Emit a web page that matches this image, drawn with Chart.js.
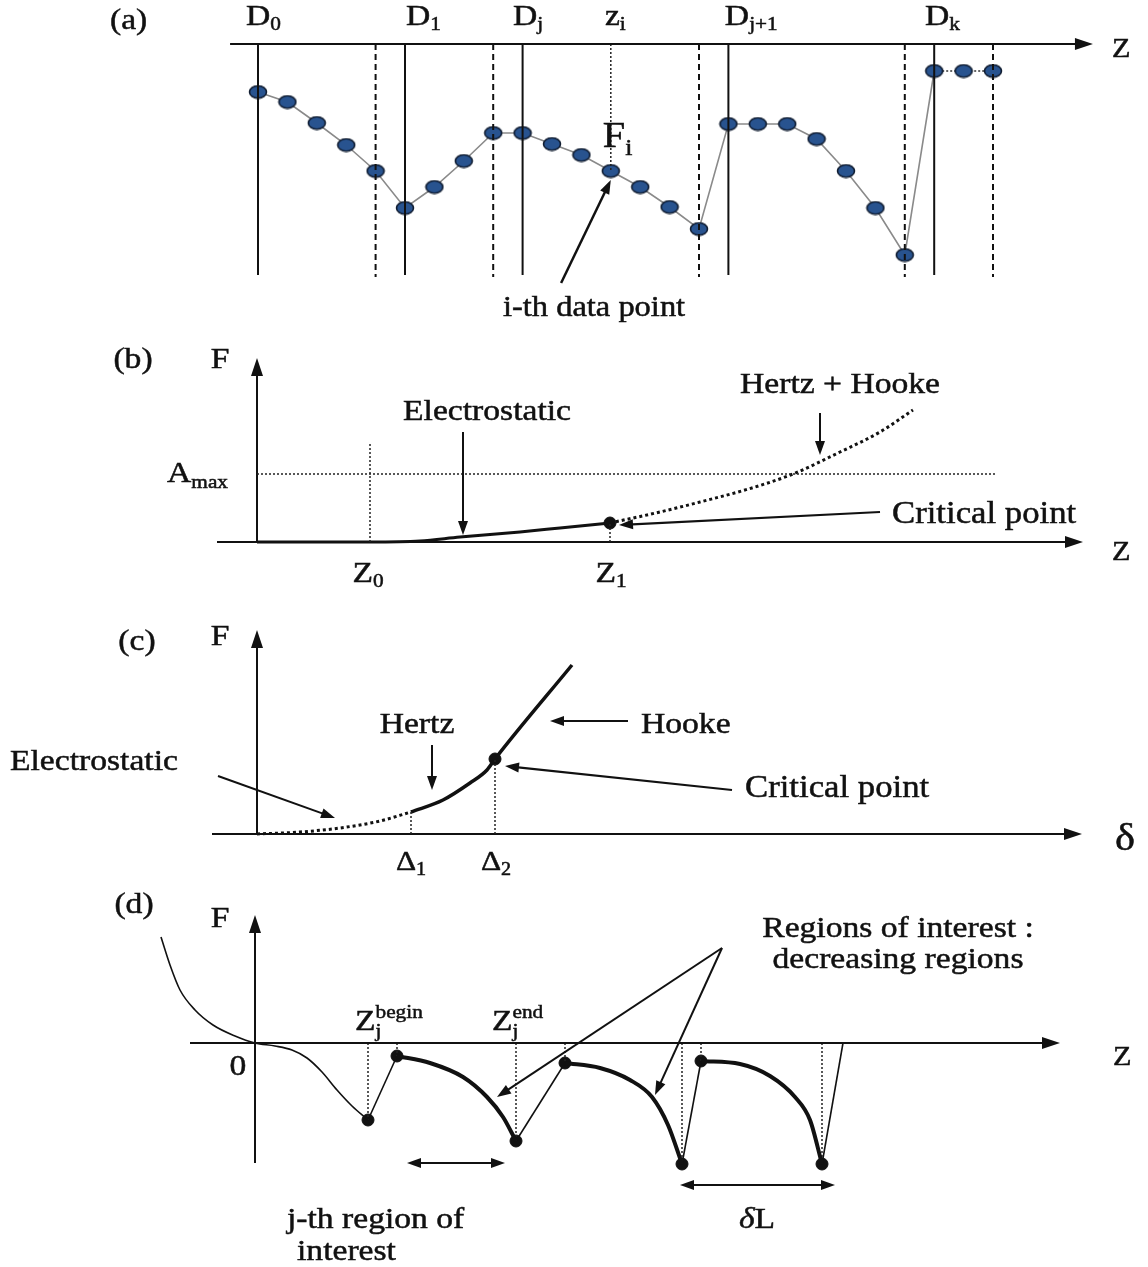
<!DOCTYPE html>
<html lang="en">
<head>
  <meta charset="UTF-8" />
  <title>Force curve segmentation</title>
  <script src="https://cdn.jsdelivr.net/npm/chart.js"></script>
  <style>
    body { margin: 0; background: #fff; }
    .panel { position: absolute; left: 0; width: 1148px; }
  </style>
</head>
<body>
  <div class="panel" style="top:0;height:330px"><canvas id="ca"></canvas></div>
  <div class="panel" style="top:330px;height:270px"><canvas id="cb"></canvas></div>
  <div class="panel" style="top:600px;height:290px"><canvas id="cc"></canvas></div>
  <div class="panel" style="top:890px;height:377px"><canvas id="cd"></canvas></div>

  <script>
    // ---- (a) sampled curve: one force value per z step ----
    const zIndexA = [0, 1, 2, 3, 4, 5, 6, 7, 8, 9, 10, 11, 12, 13, 14, 15, 16, 17, 18, 19, 20, 21, 22, 23, 24, 25];
    const forceA = [-48, -58, -79, -101, -127, -164, -143, -117, -89, -89, -100, -111, -127, -143, -163, -185,
                    -80, -80, -80, -95, -127, -164, -211, -27, -27, -27];
    const solidA = [0, 5, 9, 16, 23];   // D0, D1, Dj, Dj+1, Dk
    const dashedA = [4, 8, 15, 22, 25];
    const ziA = 12;

    // ---- (b) force vs z ----
    const bSolidZ = [0, 113, 163, 203, 263, 303, 353];
    const bSolidF = [0, 0, 1, 5, 10, 14, 19];
    const bDotZ = [353, 403, 443, 488, 536, 583, 623, 656];
    const bDotF = [19, 30, 40, 52, 68, 90, 110, 132];
    const bAmax = 68;
    const bZ0 = 113;
    const bZ1 = 353;

    // ---- (c) force vs indentation ----
    const cElecZ = [0, 43, 83, 123, 154];
    const cElecF = [0, 2, 6, 13, 22];
    const cHertzZ = [154, 186, 213, 230, 238];
    const cHertzF = [22, 34, 51, 64, 75];
    const cHookeZ = [238, 315];
    const cHookeF = [75, 169];
    const cDelta = [154, 238];

    // ---- (d) retraction curve ----
    const dApproachZ = [-94, -85, -75, -60, -42, -20, 0, 20, 37, 52, 67, 82, 97, 113];
    const dApproachF = [106, 78, 53, 33, 18, 7, 0, -3, -7, -15, -29, -47, -63, -77];
    const region1Z = [142, 175, 208, 232, 248, 261];
    const region1F = [-13, -20, -34, -54, -74, -98];
    const region2Z = [310, 345, 375, 397, 413, 427];
    const region2F = [-20, -25, -37, -54, -82, -121];
    const region3Z = [446, 485, 515, 540, 555, 567];
    const region3F = [-18, -21, -33, -54, -77, -121];
    const dEndZ = 588;

    const FONT = '"Liberation Serif", "Times New Roman", serif';
    const SX = 1.12; // lettering in the figure is a bit stretched sideways
    const FS = 30;   // main label size
    const overlays = {};

    const pts = (xs, ys) => xs.map((x, i) => ({ x: x, y: ys[i] }));
    function lineDs(data, o) {
      return Object.assign({ data: data, showLine: true, pointRadius: 0, borderColor: '#111',
        borderWidth: 2, fill: false, clip: false }, o || {});
    }
    const vline = (x, y0, y1, o) => lineDs([{ x: x, y: y0 }, { x: x, y: y1 }], o);
    const dotted = { borderWidth: 1.5, borderDash: [2, 2], borderColor: '#222' };

    function arrowHead(ctx, x0, y0, x1, y1, len, half) {
      const a = Math.atan2(y1 - y0, x1 - x0);
      const c = Math.cos(a), s = Math.sin(a);
      ctx.beginPath();
      ctx.moveTo(x1, y1);
      ctx.lineTo(x1 - len * c + half * s, y1 - len * s - half * c);
      ctx.lineTo(x1 - len * c - half * s, y1 - len * s + half * c);
      ctx.closePath();
      ctx.fill();
    }

    function drawText(ctx, x, y, parts, align) {
      const widths = parts.map(p => {
        ctx.font = (p[4] ? 'italic ' : '') + p[1] + 'px ' + FONT;
        return p[3] ? 0 : ctx.measureText(p[0]).width;
      });
      const total = widths.reduce((a, b) => a + b, 0) * SX;
      const x0 = align === 'center' ? x - total / 2 : align === 'right' ? x - total : x;
      ctx.save();
      ctx.translate(x0, y);
      ctx.scale(SX, 1);
      ctx.textBaseline = 'alphabetic';
      ctx.lineWidth = 0.5;
      let cx = 0;
      parts.forEach((p, i) => {
        ctx.font = (p[4] ? 'italic ' : '') + p[1] + 'px ' + FONT;
        ctx.fillText(p[0], cx, p[2] || 0);
        ctx.strokeText(p[0], cx, p[2] || 0);
        cx += widths[i];
      });
      ctx.restore();
    }

    const sketch = {
      id: 'sketch',
      afterDatasetsDraw(chart) {
        const marks = overlays[chart.canvas.id] || [];
        const ctx = chart.ctx;
        const sx = v => chart.scales.x.getPixelForValue(v);
        const sy = v => chart.scales.y.getPixelForValue(v);
        ctx.save();
        ctx.fillStyle = '#111';
        ctx.strokeStyle = '#111';
        marks.forEach(m => {
          if (m.kind === 'arrow') {
            const x0 = sx(m.from[0]), y0 = sy(m.from[1]);
            const x1 = sx(m.to[0]), y1 = sy(m.to[1]);
            const len = m.len || 14, half = m.half || 5;
            const d = Math.hypot(x1 - x0, y1 - y0);
            const ux = (x1 - x0) / d, uy = (y1 - y0) / d;
            const both = m.heads === 'both';
            ctx.lineWidth = m.width || 2;
            ctx.beginPath();
            ctx.moveTo(both ? x0 + ux * len * 0.6 : x0, both ? y0 + uy * len * 0.6 : y0);
            ctx.lineTo(x1 - ux * len * 0.6, y1 - uy * len * 0.6);
            ctx.stroke();
            arrowHead(ctx, x0, y0, x1, y1, len, half);
            if (both) arrowHead(ctx, x1, y1, x0, y0, len, half);
          } else if (m.kind === 'text') {
            drawText(ctx, sx(m.x), sy(m.y), m.parts, m.align || 'left');
          }
        });
        ctx.restore();
      }
    };
    Chart.register(sketch);

    function makeChart(id, xr, yr, datasets, marks) {
      overlays[id] = marks;
      return new Chart(document.getElementById(id), {
        type: 'scatter',
        data: { datasets: datasets },
        options: {
          responsive: true,
          maintainAspectRatio: false,
          animation: false,
          events: [],
          layout: { padding: 0, autoPadding: false },
          plugins: { legend: { display: false }, tooltip: { enabled: false } },
          scales: {
            x: { type: 'linear', display: false, min: xr[0], max: xr[1] },
            y: { type: 'linear', display: false, min: yr[0], max: yr[1] }
          }
        }
      });
    }

    // blue elliptic marker used in panel (a)
    const dotImg = document.createElement('canvas');
    dotImg.width = 20; dotImg.height = 15;
    (function () {
      const g = dotImg.getContext('2d');
      g.beginPath();
      g.ellipse(10, 7.5, 8.5, 6.3, 0, 0, Math.PI * 2);
      g.fillStyle = '#28538f';
      g.fill();
      g.lineWidth = 1.6;
      g.strokeStyle = '#101c30';
      g.stroke();
    })();

    // ---------------- (a) ----------------
    const stepA = 29.4;
    const dsA = [];
    solidA.forEach(i => dsA.push(vline(i, 0, -231, { borderWidth: 2 })));
    dashedA.forEach(i => dsA.push(vline(i, 0, -233, { borderWidth: 2, borderDash: [6, 4] })));
    dsA.push(vline(ziA, 0, forceA[ziA], dotted));
    dsA.push({
      data: pts(zIndexA, forceA), showLine: true, clip: false,
      borderColor: '#8a8a8a', borderWidth: 1.6,
      segment: {
        borderDash: c => c.p0DataIndex >= 23 ? [2, 2] : undefined,
        borderColor: c => c.p0DataIndex >= 23 ? '#333' : undefined
      },
      pointStyle: dotImg, pointRadius: 7
    });
    makeChart('ca', [-258 / stepA, 890 / stepA], [-286, 44], dsA, [
      { kind: 'arrow', from: [-0.95, 0], to: [28.4, 0], width: 2, len: 18, half: 6 },
      { kind: 'arrow', from: [10.31, -239], to: [12.0, -136], width: 2.5, len: 14, half: 5 },
      { kind: 'text', x: -4.4, y: 15, parts: [['(a)', FS]], align: 'center' },
      { kind: 'text', x: -0.41, y: 19, parts: [['D', FS], ['0', 19, 5]] },
      { kind: 'text', x: 5.03, y: 19, parts: [['D', FS], ['1', 19, 5]] },
      { kind: 'text', x: 8.67, y: 19, parts: [['D', FS], ['j', 19, 5]] },
      { kind: 'text', x: 11.8, y: 19, parts: [['z', FS], ['i', 19, 5]] },
      { kind: 'text', x: 15.88, y: 19, parts: [['D', FS], ['j+1', 19, 5]] },
      { kind: 'text', x: 22.69, y: 19, parts: [['D', FS], ['k', 19, 5]] },
      { kind: 'text', x: 11.73, y: -103, parts: [['F', 36], ['i', 23, 8]] },
      { kind: 'text', x: 11.43, y: -272, parts: [['i-th data point', 29]], align: 'center' },
      { kind: 'text', x: 29.05, y: -13, parts: [['Z', 27]] }
    ]);

    // ---------------- (b) ----------------
    makeChart('cb', [-257, 891], [-58, 212], [
      vline(bZ0, 0, 100, dotted),
      vline(bZ1, 0, bSolidF[bSolidF.length - 1], dotted),
      lineDs([{ x: 0, y: bAmax }, { x: 740, y: bAmax }], dotted),
      lineDs([{ x: -40, y: 0 }, { x: 815, y: 0 }], { borderWidth: 2 }),
      lineDs([{ x: 0, y: 0 }, { x: 0, y: 172 }], { borderWidth: 2 }),
      lineDs(pts(bSolidZ, bSolidF), { borderWidth: 3, cubicInterpolationMode: 'monotone' }),
      lineDs(pts(bDotZ, bDotF), { borderWidth: 3, borderDash: [3, 3], cubicInterpolationMode: 'monotone' }),
      { data: [{ x: bZ1, y: bSolidF[bSolidF.length - 1] }], pointRadius: 6, backgroundColor: '#111', borderColor: '#111' }
    ], [
      { kind: 'arrow', from: [800, 0], to: [826, 0], width: 2, len: 18, half: 6 },
      { kind: 'arrow', from: [0, 160], to: [0, 184], width: 2, len: 18, half: 6 },
      { kind: 'arrow', from: [206, 110], to: [206, 7], width: 2 },
      { kind: 'arrow', from: [563, 129], to: [563, 87], width: 2 },
      { kind: 'arrow', from: [623, 30], to: [362, 17], width: 2.2 },
      { kind: 'text', x: -124, y: 174, parts: [['(b)', FS]], align: 'center' },
      { kind: 'text', x: -37, y: 174, parts: [['F', FS]], align: 'center' },
      { kind: 'text', x: -29, y: 60, parts: [['A', FS], ['max', 19, 6]], align: 'right' },
      { kind: 'text', x: 230, y: 122, parts: [['Electrostatic', FS]], align: 'center' },
      { kind: 'text', x: 583, y: 149, parts: [['Hertz + Hooke', FS]], align: 'center' },
      { kind: 'text', x: 635, y: 19, parts: [['Critical point', 31]] },
      { kind: 'text', x: 111, y: -40, parts: [['Z', FS], ['0', 19, 5]], align: 'center' },
      { kind: 'text', x: 354, y: -40, parts: [['Z', FS], ['1', 19, 5]], align: 'center' },
      { kind: 'text', x: 855, y: -18, parts: [['Z', 27]] }
    ]);

    // ---------------- (c) ----------------
    makeChart('cc', [-257, 891], [-56, 234], [
      vline(cDelta[0], 0, cElecF[cElecF.length - 1], dotted),
      vline(cDelta[1], 0, cHertzF[cHertzF.length - 1], dotted),
      lineDs([{ x: -45, y: 0 }, { x: 810, y: 0 }], { borderWidth: 2 }),
      lineDs([{ x: 0, y: 0 }, { x: 0, y: 190 }], { borderWidth: 2 }),
      lineDs(pts(cElecZ, cElecF), { borderWidth: 3, borderDash: [3, 3], cubicInterpolationMode: 'monotone' }),
      lineDs(pts(cHertzZ, cHertzF).concat(pts(cHookeZ, cHookeF).slice(1)), { borderWidth: 3.5, cubicInterpolationMode: 'monotone' }),
      { data: [{ x: cHookeZ[0], y: cHookeF[0] }], pointRadius: 6, backgroundColor: '#111', borderColor: '#111' }
    ], [
      { kind: 'arrow', from: [800, 0], to: [825, 0], width: 2, len: 18, half: 6 },
      { kind: 'arrow', from: [0, 180], to: [0, 204], width: 2, len: 18, half: 6 },
      { kind: 'arrow', from: [175, 89], to: [175, 44], width: 2 },
      { kind: 'arrow', from: [371, 113], to: [293, 113], width: 2 },
      { kind: 'arrow', from: [-39, 58], to: [78, 16], width: 2 },
      { kind: 'arrow', from: [475, 44], to: [248, 68], width: 2.2 },
      { kind: 'text', x: -120, y: 184, parts: [['(c)', FS]], align: 'center' },
      { kind: 'text', x: -37, y: 189, parts: [['F', FS]], align: 'center' },
      { kind: 'text', x: 160, y: 101, parts: [['Hertz', FS]], align: 'center' },
      { kind: 'text', x: 384, y: 101, parts: [['Hooke', FS]] },
      { kind: 'text', x: -247, y: 64, parts: [['Electrostatic', FS]] },
      { kind: 'text', x: 488, y: 37, parts: [['Critical point', 31]] },
      { kind: 'text', x: 154, y: -36, parts: [['\u0394', 28], ['1', 18, 5]], align: 'center' },
      { kind: 'text', x: 239, y: -36, parts: [['\u0394', 28], ['2', 18, 5]], align: 'center' },
      { kind: 'text', x: 858, y: -16, parts: [['\u03b4', 38]] }
    ]);

    // ---------------- (d) ----------------
    const dRegZ = [region1Z, region2Z, region3Z];
    const dRegF = [region1F, region2F, region3F];
    const dsD = [
      lineDs([{ x: -65, y: 0 }, { x: 790, y: 0 }], { borderWidth: 2 }),
      lineDs([{ x: 0, y: -120 }, { x: 0, y: 114 }], { borderWidth: 2 }),
      lineDs(pts(dApproachZ, dApproachF), { borderWidth: 1.6, cubicInterpolationMode: 'monotone' })
    ];
    const dotsD = [{ x: dApproachZ[dApproachZ.length - 1], y: dApproachF[dApproachF.length - 1] }];
    let prevZ = dApproachZ[dApproachZ.length - 1], prevF = dApproachF[dApproachF.length - 1];
    dsD.push(vline(prevZ, 0, prevF, dotted));
    dRegZ.forEach((zs, k) => {
      const fs = dRegF[k];
      const last = zs.length - 1;
      dsD.push(lineDs([{ x: prevZ, y: prevF }, { x: zs[0], y: fs[0] }], { borderWidth: 1.6 }));
      dsD.push(lineDs(pts(zs, fs), { borderWidth: 4, cubicInterpolationMode: 'monotone' }));
      dsD.push(vline(zs[0], 0, fs[0], dotted));
      dsD.push(vline(zs[last], 0, fs[last], dotted));
      dotsD.push({ x: zs[0], y: fs[0] }, { x: zs[last], y: fs[last] });
      prevZ = zs[last]; prevF = fs[last];
    });
    dsD.push(lineDs([{ x: prevZ, y: prevF }, { x: dEndZ, y: 0 }], { borderWidth: 1.6 }));
    dsD.push({ data: dotsD, pointRadius: 6, backgroundColor: '#111', borderColor: '#111' });

    makeChart('cd', [-255, 893], [-224, 153], dsD, [
      { kind: 'arrow', from: [780, 0], to: [805, 0], width: 2, len: 18, half: 6 },
      { kind: 'arrow', from: [0, 105], to: [0, 128], width: 2, len: 18, half: 6 },
      { kind: 'arrow', from: [467, 95], to: [242, -54], width: 2 },
      { kind: 'arrow', from: [467, 95], to: [400, -52], width: 2 },
      { kind: 'arrow', from: [152, -120], to: [250, -120], width: 2.2, heads: 'both' },
      { kind: 'arrow', from: [425, -142], to: [580, -142], width: 2.2, heads: 'both' },
      { kind: 'text', x: -121, y: 130, parts: [['(d)', FS]], align: 'center' },
      { kind: 'text', x: -35, y: 116, parts: [['F', FS]], align: 'center' },
      { kind: 'text', x: -17, y: -32, parts: [['0', FS]], align: 'center' },
      { kind: 'text', x: 858, y: -22, parts: [['Z', 27]] },
      { kind: 'text', x: 643, y: 106, parts: [['Regions of interest :', FS]], align: 'center' },
      { kind: 'text', x: 643, y: 75, parts: [['decreasing regions', FS]], align: 'center' },
      { kind: 'text', x: 100, y: 13, parts: [['Z', FS], ['j', 19, 7, true], ['begin', 19, -12]] },
      { kind: 'text', x: 237, y: 13, parts: [['Z', FS], ['j', 19, 7, true], ['end', 19, -12]] },
      { kind: 'text', x: 32, y: -185, parts: [['j-th region of', FS]] },
      { kind: 'text', x: 42, y: -217, parts: [['interest', FS]] },
      { kind: 'text', x: 502, y: -185, parts: [['\u03b4', FS, 0, false, true], ['L', FS]], align: 'center' }
    ]);
  </script>
</body>
</html>
